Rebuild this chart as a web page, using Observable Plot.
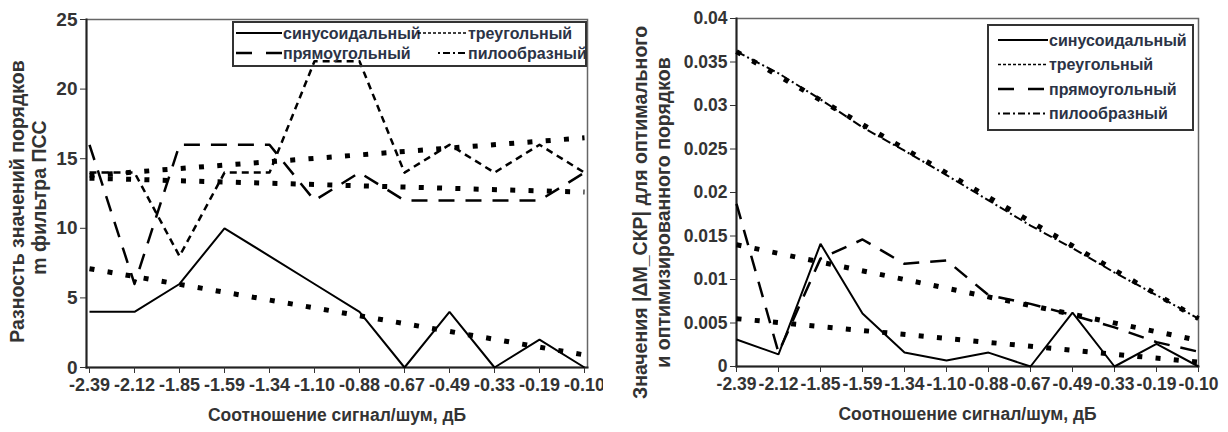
<!DOCTYPE html>
<html><head><meta charset="utf-8">
<script src="https://cdn.jsdelivr.net/npm/d3@7"></script>
<script src="https://cdn.jsdelivr.net/npm/@observablehq/plot@0.6"></script>
<style>
body{margin:0;background:#fff;}
#wrap{position:relative;width:1228px;height:432px;overflow:hidden;background:#fff;font-family:"Liberation Sans",Arial,sans-serif;}
.panel{position:absolute;top:0;}
#legend{position:absolute;left:0;top:0;pointer-events:none;}
</style></head><body><div id="wrap"></div>
<script>
const categories = ["-2.39","-2.12","-1.85","-1.59","-1.34","-1.10","-0.88","-0.67","-0.49","-0.33","-0.19","-0.10"];

// left panel
const leftSin  = [4, 4, 6, 10, 8, 6, 4, 0, 4, 0, 2, 0];
const leftRect = [16, 6, 16, 16, 16, 12, 14, 12, 12, 12, 12, 14];
const leftMid  = [14, 14, 8, 14, 14, 22, 22, 14, 16, 14, 16, 14];
const leftTrendSin  = [7.1, 0.9];
const leftTrendMid  = [13.8, 16.5];
const leftTrendRect = [13.6, 12.6];
const leftYTicks = [0, 5, 10, 15, 20, 25];

// right panel
const rightSin  = [0.0031, 0.0014, 0.0141, 0.0061, 0.0016, 0.0007, 0.0016, 0, 0.0062, 0, 0.0026, 0];
const rightRect = [0.0187, 0.0016, 0.0124, 0.0146, 0.0118, 0.0122, 0.0082, 0.0072, 0.0059, 0.0045, 0.0028, 0.0017];
const rightSaw  = [0.0362, 0.0337, 0.0307, 0.0275, 0.0248, 0.0220, 0.0191, 0.0162, 0.0136, 0.0108, 0.0082, 0.0055];
const rightTrendSin  = [0.0055, 0.0005];
const rightTrendRect = [0.0140, 0.0030];
const rightTrendSaw  = [0.0362, 0.0055];
const rightYTicks = [0, 0.005, 0.01, 0.015, 0.02, 0.025, 0.03, 0.035, 0.04];

const xTitle = "Соотношение сигнал/шум, дБ";
const leftYTitle = ["Разность значений порядков", "m фильтра ПСС"];
const rightYTitle = ["Значения |ΔМ_СКР| для оптимального", "и оптимизированного порядков"];
const legendLabels = ["синусоидальный", "треугольный", "прямоугольный", "пилообразный"];

const FONT = "Liberation Sans, Arial, sans-serif";
const STY = {
  sin:   {stroke:"#000", strokeWidth:2, strokeLinecap:"butt", strokeLinejoin:"miter"},
  rect:  {stroke:"#000", strokeWidth:2.5, strokeDasharray:"16,11", strokeLinecap:"butt"},
  mid:   {stroke:"#000", strokeWidth:2.5, strokeDasharray:"7,5", strokeLinecap:"butt"},
  saw:   {stroke:"#000", strokeWidth:2, strokeDasharray:"9,3,2,3", strokeLinecap:"butt"},
  trend: {stroke:"#000", strokeWidth:5, strokeDasharray:"5,13.3", strokeLinecap:"butt"}
};

const series = vals => categories.map((c, i) => ({x: c, y: vals[i]}));
const trend = ends => [{x: categories[0], y: ends[0]}, {x: categories[categories.length - 1], y: ends[1]}];

function panel(o) {
  return Plot.plot({
    width: o.width, height: 432,
    marginLeft: o.ml, marginRight: o.mr, marginTop: o.mt, marginBottom: o.mb,
    x: {type: "point", domain: categories, padding: 0},
    y: {domain: o.yDomain},
    style: {fontFamily: FONT, fontSize: "17px", fontWeight: "bold", color: "#333", background: "white", overflow: o.overflow},
    marks: [
      Plot.frame({stroke: "#666", strokeWidth: 1.5}),
      Plot.frame({anchor: "left", stroke: "#222", strokeWidth: 2}),
      Plot.frame({anchor: "bottom", stroke: "#222", strokeWidth: 2}),
      Plot.axisX({tickSize: 6, tickPadding: 5, label: null, fontSize: o.xfs}),
      Plot.axisY({ticks: o.yTicks, tickSize: 6, tickPadding: 3, tickFormat: o.yFormat, label: null, fontSize: o.yfs}),
      ...o.trends.map(t => Plot.line(trend(t), {x: "x", y: "y", ...STY.trend})),
      ...o.lines.map(([v, s]) => Plot.line(series(v), {x: "x", y: "y", ...STY[s]})),
      Plot.text([xTitle], {text: d => d, frameAnchor: "bottom", dy: 53, fontSize: 17.5, fontWeight: "bold", fill: "#333"}),
      Plot.text([o.yTitle[0]], {text: d => d, frameAnchor: "left", textAnchor: "middle", rotate: -90, dx: o.ytDx[0], dy: o.ytDy[0], fontSize: 19.5, fontWeight: "bold", fill: "#333"}),
      Plot.text([o.yTitle[1]], {text: d => d, frameAnchor: "left", textAnchor: "middle", rotate: -90, dx: o.ytDx[1], dy: o.ytDy[1], fontSize: 19.5, fontWeight: "bold", fill: "#333"})
    ]
  });
}

const wrap = document.getElementById("wrap");

const left = panel({
  width: 603, ml: 86, mr: 16, mt: 19, mb: 65, overflow: "hidden", xfs: 18, yfs: 19,
  yDomain: [0, 25], yTicks: leftYTicks, yFormat: d3.format("d"),
  trends: [leftTrendSin, leftTrendMid, leftTrendRect],
  lines: [[leftSin, "sin"], [leftRect, "rect"], [leftMid, "mid"]],
  yTitle: leftYTitle, ytDx: [-69, -47], ytDy: [8, 4]
});
left.classList.add("panel"); left.style.left = "0px";
wrap.appendChild(left);

const right = panel({
  width: 614, ml: 122, mr: 30, mt: 18, mb: 66, overflow: "visible", xfs: 17.5, yfs: 17.5,
  yDomain: [0, 0.04], yTicks: rightYTicks, yFormat: d => d === 0 ? "0" : d3.format("~g")(d),
  trends: [rightTrendSin, rightTrendRect, rightTrendSaw],
  lines: [[rightSin, "sin"], [rightRect, "rect"], [rightSaw, "saw"]],
  yTitle: rightYTitle, ytDx: [-96, -73], ytDy: [20, 20]
});
right.classList.add("panel"); right.style.left = "614px";
wrap.appendChild(right);

// legends (overlay)
const svg = d3.select(wrap).append("svg").attr("id", "legend").attr("width", 1228).attr("height", 432);
const legStyles = {
  sin:  {w: 2, dash: null},
  tri:  {w: 1.5, dash: "3,2"},
  rect: {w: 2.5, dash: "16,14"},
  saw:  {w: 2, dash: "2,3,7,3"}
};
function legendBox(x, y, w, h, items) {
  svg.append("rect").attr("x", x).attr("y", y).attr("width", w).attr("height", h)
    .attr("fill", "none").attr("stroke", "#333").attr("stroke-width", 2);
  for (const it of items) {
    const st = legStyles[it.s];
    svg.append("line").attr("x1", it.x1).attr("x2", it.x2).attr("y1", it.y).attr("y2", it.y)
      .attr("stroke", "#000").attr("stroke-width", st.w).attr("stroke-dasharray", st.dash);
    svg.append("text").attr("x", it.x2 + 1).attr("y", it.y).attr("dy", "0.35em")
      .attr("font-family", FONT).attr("font-size", 16).attr("font-weight", "bold")
      .attr("fill", "#2b3346").text(it.label);
  }
}
legendBox(233, 22, 353, 44, [
  {x1: 236, x2: 282, y: 33, s: "sin", label: legendLabels[0]},
  {x1: 418, x2: 467, y: 33, s: "tri", label: legendLabels[1]},
  {x1: 236, x2: 282, y: 53, s: "rect", label: legendLabels[2]},
  {x1: 438, x2: 467, y: 53, s: "saw", label: legendLabels[3]}
]);
legendBox(988, 25, 205, 105, [
  {x1: 998, x2: 1048, y: 40, s: "sin", label: legendLabels[0]},
  {x1: 998, x2: 1048, y: 64.5, s: "tri", label: legendLabels[1]},
  {x1: 998, x2: 1048, y: 89, s: "rect", label: legendLabels[2]},
  {x1: 998, x2: 1048, y: 113.5, s: "saw", label: legendLabels[3]}
]);
</script></body></html>
